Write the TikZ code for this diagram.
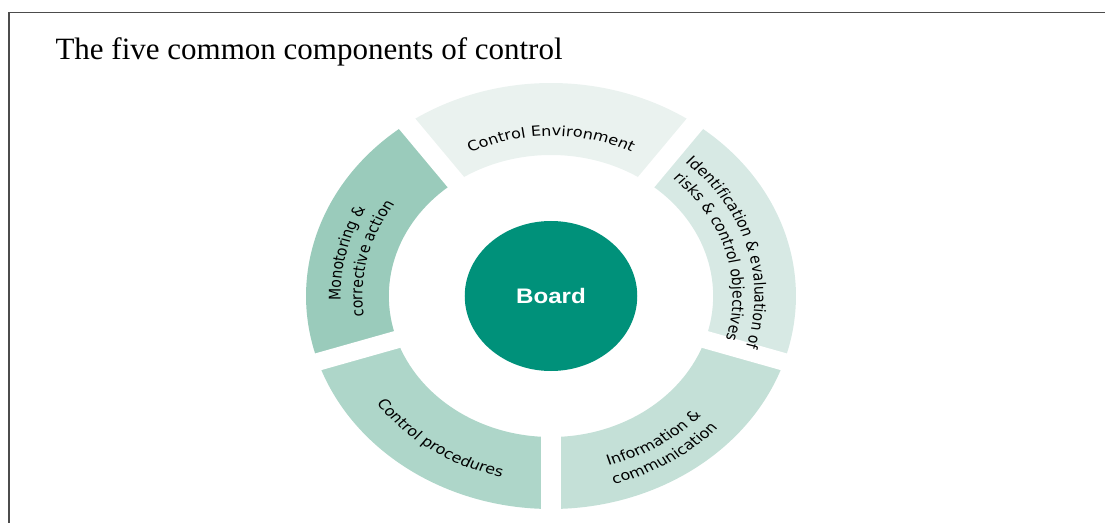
\documentclass[tikz,border=0pt]{standalone}
\usepackage{fontspec}
\setmainfont{Liberation Serif}
\newfontfamily\segfont{DejaVu Sans}
\newfontfamily\boardfont{Liberation Sans}
\usetikzlibrary{decorations.text}

\definecolor{envcol}{RGB}{234,242,239}
\definecolor{riskcol}{RGB}{215,233,228}
\definecolor{infocol}{RGB}{196,224,215}
\definecolor{proccol}{RGB}{174,214,201}
\definecolor{moncol}{RGB}{154,203,187}
\definecolor{boardcol}{RGB}{0,145,122}

\newcommand{\seglabel}{\segfont\fontsize{14}{16}\selectfont}

\begin{document}
\begin{tikzpicture}[x=1pt, y=1pt,
    gap/.style={white, line width=17.5pt},
    arclabel/.style={decorate, decoration={text along path, text align=center, text={#1}}}]
        \useasboundingbox (-551,-226) rectangle (554,296);
        \draw[black!70, line width=1.6pt] (-542,-230) -- (-542,283.5) -- (560,283.5);
        \node[anchor=base west, font=\fontsize{31}{36}\selectfont] (title) at (-499,236) {The five common components of control};
        \begin{scope}[transform canvas={xscale=1.15}]
           % five ring segments, gaps cut in white
           \foreach \a/\c in {90/envcol, 18/riskcol, 306/infocol, 234/proccol, 162/moncol}
              \fill[\c] ({\a-36}:141) arc[start angle=\a-36, end angle=\a+36, radius=141]
                 -- ({\a+36}:213) arc[start angle=\a+36, end angle=\a-36, radius=213] -- cycle;
           \foreach \a in {54,126,198,270,342}
              \draw[gap] (0,0) -- (\a:232);
           \node[circle, fill=boardcol, minimum size=150pt, inner sep=0pt, text=white,
              font=\boardfont\bfseries\fontsize{21}{24}\selectfont] (board) at (0,0) {Board};
           \path[arclabel={|\seglabel|Control Environment}] (150:160) arc[start angle=150, end angle=30, radius=160];
           \path[arclabel={|\seglabel|Identification {\&} evaluation of}] (86:177) arc[start angle=86, end angle=-54, radius=177];
           \path[arclabel={|\seglabel|risks {\&} control objectives}] (86:158) arc[start angle=86, end angle=-54, radius=158];
           \path[arclabel={|\seglabel|Information {\&}}] (-118:177) arc[start angle=-118, end angle=2, radius=177];
           \path[arclabel={|\seglabel|communication}] (-118:196) arc[start angle=-118, end angle=2, radius=196];
           \path[arclabel={|\seglabel|Control procedures}] (176:186) arc[start angle=176, end angle=296, radius=186];
           \path[arclabel={|\seglabel|Monotoring {\&}}] (226.5:183) arc[start angle=226.5, end angle=106.5, radius=183];
           \path[arclabel={|\seglabel|corrective action}] (226.5:164) arc[start angle=226.5, end angle=106.5, radius=164];
        \end{scope}
\end{tikzpicture}
\end{document}
